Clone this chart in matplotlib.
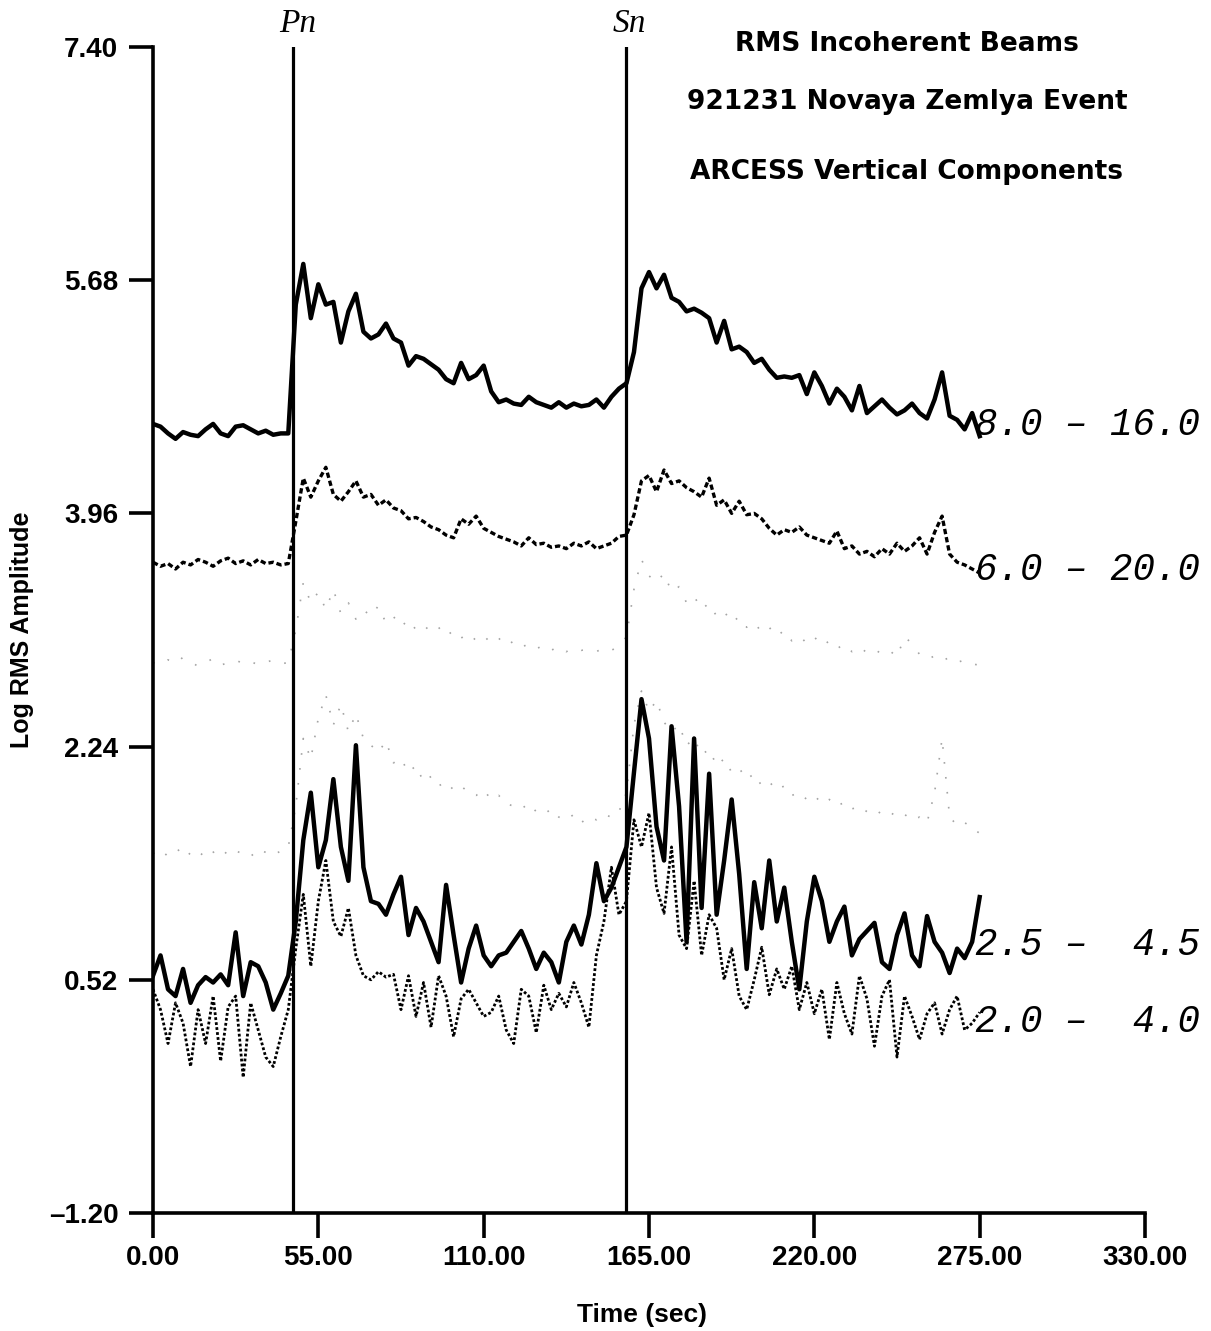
import numpy as np
import matplotlib
matplotlib.use("Agg")
import matplotlib.pyplot as plt

# Sampling interval of the RMS beam traces (sec)
dt = 2.5

# Log RMS amplitude per filter band, sampled every 2.5 s from 0 to 275 s
band_8_16 = [
    4.62, 4.60, 4.55, 4.51, 4.56, 4.54, 4.53, 4.58, 4.62, 4.55,
    4.53, 4.60, 4.61, 4.58, 4.55, 4.57, 4.54, 4.55, 4.55,
    5.50, 5.80, 5.40, 5.65, 5.50, 5.52, 5.22, 5.45, 5.58, 5.30,
    5.25, 5.28, 5.36, 5.25, 5.22, 5.05, 5.12, 5.10, 5.06, 5.02,
    4.95, 4.92, 5.07, 4.95, 4.98, 5.05, 4.86, 4.78, 4.80, 4.77,
    4.76, 4.82, 4.78, 4.76, 4.74, 4.78, 4.74, 4.77, 4.75, 4.76,
    4.80, 4.74, 4.82, 4.88, 4.92, 5.15, 5.62, 5.74, 5.62, 5.72,
    5.55, 5.52, 5.45, 5.47, 5.44, 5.40, 5.22, 5.38, 5.17, 5.19,
    5.15, 5.07, 5.10, 5.02, 4.96, 4.97, 4.96, 4.98, 4.84, 5.00,
    4.90, 4.77, 4.88, 4.82, 4.72, 4.90, 4.70, 4.75, 4.80, 4.74,
    4.69, 4.72, 4.77, 4.70, 4.66, 4.80, 5.00, 4.68, 4.65, 4.58,
    4.70, 4.53,
]

band_6_20 = [
    3.60, 3.57, 3.59, 3.55, 3.60, 3.58, 3.62, 3.60, 3.57, 3.61,
    3.63, 3.59, 3.61, 3.58, 3.62, 3.59, 3.60, 3.58, 3.59,
    3.90, 4.22, 4.08, 4.20, 4.30, 4.10, 4.05, 4.12, 4.20, 4.08,
    4.10, 4.02, 4.06, 4.00, 3.98, 3.92, 3.93, 3.90, 3.86, 3.84,
    3.80, 3.78, 3.92, 3.88, 3.94, 3.85, 3.82, 3.79, 3.77, 3.75,
    3.72, 3.78, 3.73, 3.74, 3.71, 3.72, 3.70, 3.74, 3.72, 3.75,
    3.70, 3.72, 3.74, 3.79, 3.80, 3.95, 4.20, 4.24, 4.12, 4.28,
    4.18, 4.20, 4.15, 4.12, 4.08, 4.22, 4.02, 4.06, 3.96, 4.05,
    3.95, 3.96, 3.92, 3.85, 3.80, 3.84, 3.82, 3.86, 3.80, 3.78,
    3.76, 3.74, 3.83, 3.70, 3.72, 3.66, 3.68, 3.64, 3.70, 3.66,
    3.74, 3.68, 3.72, 3.78, 3.66, 3.82, 3.94, 3.66, 3.60, 3.58,
    3.55, 3.52,
]

band_4_8 = [
    2.86, 2.84, 2.88, 2.85, 2.90, 2.87, 2.83, 2.86, 2.89, 2.84,
    2.86, 2.88, 2.85, 2.87, 2.84, 2.86, 2.88, 2.85, 2.86,
    3.10, 3.45, 3.30, 3.38, 3.25, 3.40, 3.22, 3.30, 3.18, 3.25,
    3.20, 3.28, 3.15, 3.20, 3.12, 3.18, 3.10, 3.14, 3.08, 3.12,
    3.05, 3.10, 3.04, 3.08, 3.02, 3.06, 3.00, 3.04, 2.98, 3.02,
    2.97, 3.00, 2.96, 2.99, 2.95, 2.98, 2.94, 2.97, 2.95, 2.96,
    2.94, 2.97, 2.95, 2.98,
    3.05, 3.40, 3.62, 3.50, 3.45, 3.52, 3.38, 3.42, 3.30, 3.35,
    3.25, 3.30, 3.20, 3.24, 3.15, 3.20, 3.12, 3.16, 3.08, 3.12,
    3.05, 3.10, 3.02, 3.06, 3.00, 3.05, 2.98, 3.02, 2.96, 3.00,
    2.94, 2.98, 2.93, 2.96, 2.92, 2.95, 2.90, 3.05, 3.00, 2.92,
    2.88, 2.91, 2.87, 2.90, 2.86, 2.88, 2.85, 2.84,
]

band_3_6 = [
    1.45, 1.48, 1.43, 1.46, 1.50, 1.44, 1.47, 1.42, 1.46, 1.49,
    1.44, 1.47, 1.45, 1.43, 1.48, 1.46, 1.44, 1.47, 1.50,
    1.80, 2.30, 2.15, 2.45, 2.62, 2.40, 2.55, 2.35, 2.48, 2.30,
    2.25, 2.20, 2.28, 2.12, 2.15, 2.05, 2.10, 1.98, 2.02, 1.95,
    1.98, 1.92, 1.95, 1.90, 1.88, 1.92, 1.85, 1.88, 1.82, 1.80,
    1.78, 1.82, 1.76, 1.74, 1.78, 1.72, 1.70, 1.74, 1.68, 1.72,
    1.70, 1.74, 1.72, 1.76,
    1.90, 2.40, 2.65, 2.50, 2.58, 2.42, 2.35, 2.40, 2.25, 2.30,
    2.18, 2.22, 2.10, 2.15, 2.05, 2.08, 2.00, 2.04, 1.95, 1.98,
    1.92, 1.95, 1.88, 1.90, 1.85, 1.88, 1.82, 1.85, 1.80, 1.83,
    1.78, 1.80, 1.76, 1.78, 1.74, 1.76, 1.72, 1.74, 1.70, 1.72,
    1.68, 1.90, 2.30, 1.72, 1.66, 1.68, 1.64, 1.60,
]

band_25_45 = [
    0.55, 0.70, 0.45, 0.40, 0.60, 0.35, 0.48, 0.54, 0.50, 0.56,
    0.48, 0.87, 0.40, 0.65, 0.62, 0.50, 0.30, 0.42, 0.55,
    0.95, 1.55, 1.90, 1.35, 1.55, 2.00, 1.50, 1.25, 2.25, 1.35,
    1.10, 1.08, 1.00, 1.15, 1.28, 0.85, 1.05, 0.95, 0.80, 0.65,
    1.22, 0.85, 0.50, 0.75, 0.92, 0.70, 0.62, 0.70, 0.72, 0.80,
    0.88, 0.75, 0.60, 0.72, 0.65, 0.50, 0.80, 0.92, 0.78, 1.00,
    1.38, 1.10, 1.20, 1.35, 1.50, 2.05, 2.59, 2.30, 1.65, 1.40,
    2.39, 1.80, 0.80, 2.30, 1.05, 2.04, 1.00, 1.40, 1.85, 1.30,
    0.60, 1.24, 0.90, 1.40, 0.95, 1.20, 0.80, 0.45, 0.95, 1.28,
    1.10, 0.80, 0.95, 1.06, 0.70, 0.82, 0.88, 0.94, 0.65, 0.60,
    0.85, 1.01, 0.70, 0.62, 0.99, 0.80, 0.72, 0.57, 0.75, 0.68,
    0.80, 1.13,
]

band_20_40 = [
    0.45, 0.30, 0.05, 0.35, 0.20, -0.12, 0.30, 0.05, 0.40, -0.08,
    0.32, 0.40, -0.20, 0.35, 0.15, -0.05, -0.12, 0.10, 0.30,
    0.75, 1.15, 0.62, 1.10, 1.40, 0.95, 0.84, 1.05, 0.70, 0.55,
    0.52, 0.58, 0.54, 0.56, 0.30, 0.55, 0.25, 0.50, 0.17, 0.55,
    0.40, 0.10, 0.38, 0.45, 0.35, 0.25, 0.28, 0.40, 0.15, 0.05,
    0.45, 0.40, 0.13, 0.48, 0.30, 0.42, 0.32, 0.50, 0.35, 0.17,
    0.70, 0.95, 1.35, 1.00, 1.10, 1.70, 1.50, 1.75, 1.20, 1.01,
    1.50, 0.85, 0.75, 1.25, 0.70, 1.00, 0.90, 0.52, 0.75, 0.40,
    0.30, 0.52, 0.76, 0.41, 0.60, 0.45, 0.62, 0.30, 0.50, 0.27,
    0.45, 0.08, 0.50, 0.27, 0.12, 0.55, 0.38, 0.03, 0.40, 0.52,
    -0.05, 0.40, 0.25, 0.08, 0.27, 0.35, 0.12, 0.30, 0.40, 0.15,
    0.20, 0.28,
]

# Phase arrival times (sec)
pn_time = 46.7
sn_time = 157.2

# Band labels and the amplitude level at which each is written
band_labels = ["8.0 \u2013 16.0", "6.0 \u2013 20.0",
               "2.5 \u2013  4.5", "2.0 \u2013  4.0"]
band_label_levels = [4.61, 3.54, 0.78, 0.21]

x_ticks = [0, 55, 110, 165, 220, 275, 330]
x_tick_labels = ["0.00", "55.00", "110.00", "165.00", "220.00", "275.00", "330.00"]
y_ticks = [7.40, 5.68, 3.96, 2.24, 0.52, -1.20]
y_tick_labels = ["7.40", "5.68", "3.96", "2.24", "0.52", "\u20131.20"]

title_lines = ["RMS Incoherent Beams",
               "921231 Novaya Zemlya Event",
               "ARCESS Vertical Components"]


def times(values):
    return np.arange(len(values)) * dt


W, H = 1211, 1331
fig = plt.figure(figsize=(W / 100, H / 100), dpi=100)
ax = fig.add_axes([153 / W, 1 - 1213 / H, (1145 - 153) / W, (1213 - 47) / H])

ax.set_xlim(0, 330)
ax.set_ylim(-1.2, 7.4)

# faint, sparsely printed mid-frequency beams
ax.plot(times(band_4_8), band_4_8, color="0.35", lw=1.2,
        linestyle=(0, (1, 9)), alpha=0.55)
ax.plot(times(band_3_6), band_3_6, color="0.35", lw=1.2,
        linestyle=(0, (1, 8)), alpha=0.55)

# main beams
ax.plot(times(band_8_16), band_8_16, color="black", lw=3.2,
        solid_joinstyle="round")
ax.plot(times(band_6_20), band_6_20, color="black", lw=2.4,
        linestyle=(0, (1.6, 0.9)))
ax.plot(times(band_20_40), band_20_40, color="black", lw=2.0,
        linestyle=(0, (1.0, 0.8)))
ax.plot(times(band_25_45), band_25_45, color="black", lw=3.2,
        solid_joinstyle="round")

# phase markers
for t, name in [(pn_time, "Pn"), (sn_time, "Sn")]:
    ax.axvline(t, color="black", lw=2.3)
    ax.annotate(name, xy=(t, 7.4), xytext=(3, 6), textcoords="offset points",
                ha="center", va="bottom", fontsize=24, style="italic",
                family="Liberation Serif", annotation_clip=False)

for label, level in zip(band_labels, band_label_levels):
    ax.text(273.5, level, label, ha="left", va="center", fontsize=27,
            style="italic", family="Liberation Mono", clip_on=False)

# axes styling
for side in ("top", "right"):
    ax.spines[side].set_visible(False)
for side in ("left", "bottom"):
    ax.spines[side].set_linewidth(2.6)

ax.set_xticks(x_ticks)
ax.set_xticklabels(x_tick_labels)
ax.set_yticks(y_ticks)
ax.set_yticklabels(y_tick_labels)
ax.tick_params(axis="y", direction="out", length=17, width=2.6, pad=8)
ax.tick_params(axis="x", direction="out", length=18, width=2.6, pad=5)
for lab in ax.get_xticklabels() + ax.get_yticklabels():
    lab.set_family("Liberation Sans")
    lab.set_fontweight("bold")
    lab.set_fontsize(20)

fig.text(22 / W, 1 - 630 / H, "Log RMS Amplitude", rotation=90,
         ha="center", va="center", fontsize=18, fontweight="bold",
         family="Liberation Sans")
fig.text(642 / W, 1 - 1315 / H, "Time (sec)", ha="center", va="center",
         fontsize=19, fontweight="bold", family="Liberation Sans")

for line, ypx in zip(title_lines, [44, 102, 172]):
    fig.text(907 / W, 1 - ypx / H, line, ha="center", va="center",
             fontsize=19, fontweight="bold", family="DejaVu Sans")

fig.savefig("out.png", dpi=100, facecolor="white")
